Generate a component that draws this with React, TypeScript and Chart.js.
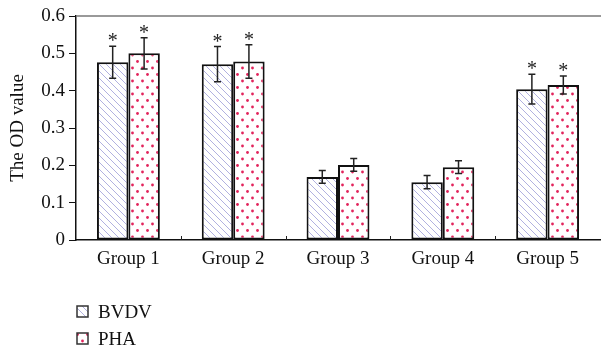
import React, { useEffect, useRef } from 'react';
import { Chart, registerables } from 'chart.js';

Chart.register(...registerables);

const categories = ['Group 1', 'Group 2', 'Group 3', 'Group 4', 'Group 5'];
const seriesNames = ['BVDV', 'PHA'];
const bvdvValues = [0.476, 0.471, 0.169, 0.155, 0.404];
const bvdvErrors = [0.043, 0.047, 0.017, 0.018, 0.040];
const phaValues = [0.5, 0.478, 0.201, 0.195, 0.415];
const phaErrors = [0.042, 0.045, 0.017, 0.017, 0.024];
const bvdvStars = [true, true, false, false, true];
const phaStars = [true, true, false, false, true];
const yMin = 0;
const yMax = 0.6;
const yStep = 0.1;
const yTitle = 'The OD value';

const FONT = "'Liberation Serif', 'Times New Roman', serif";

function makeHatch(): CanvasPattern | string {
  const n = 7;
  const c = document.createElement('canvas');
  c.width = n;
  c.height = n;
  const g = c.getContext('2d');
  if (!g) return '#fff';
  g.fillStyle = '#ffffff';
  g.fillRect(0, 0, n, n);
  g.strokeStyle = '#a8a8dc';
  g.lineWidth = 0.9;
  g.beginPath();
  g.moveTo(-1, -1);
  g.lineTo(n + 1, n + 1);
  g.moveTo(-1, n - 1);
  g.lineTo(1, n + 1);
  g.moveTo(n - 1, -1);
  g.lineTo(n + 1, 1);
  g.stroke();
  return g.createPattern(c, 'repeat') || '#fff';
}

function makeDots(): CanvasPattern | string {
  const c = document.createElement('canvas');
  c.width = 10;
  c.height = 13;
  const g = c.getContext('2d');
  if (!g) return '#fff';
  g.fillStyle = '#ffffff';
  g.fillRect(0, 0, 10, 13);
  g.fillStyle = '#e2245c';
  g.beginPath();
  g.arc(2.5, 3, 1.4, 0, Math.PI * 2);
  g.fill();
  g.beginPath();
  g.arc(7.5, 9.5, 1.4, 0, Math.PI * 2);
  g.fill();
  return g.createPattern(c, 'repeat') || '#fff';
}

export default function App() {
  const ref = useRef<HTMLCanvasElement | null>(null);

  useEffect(() => {
    const canvas = ref.current;
    if (!canvas) return;
    const hatch = makeHatch();
    const dots = makeDots();
    const errors = [bvdvErrors, phaErrors];
    const stars = [bvdvStars, phaStars];
    const fills = [hatch, dots];

    const overlay = {
      id: 'overlay',
      afterDatasetsDraw(chart: any) {
        const ctx = chart.ctx as CanvasRenderingContext2D;
        const ys = chart.scales.y;
        ctx.save();
        chart.data.datasets.forEach((ds: any, di: number) => {
          const meta = chart.getDatasetMeta(di);
          meta.data.forEach((bar: any, i: number) => {
            const v = ds.data[i];
            const e = errors[di][i];
            const x = bar.x;
            const yt = ys.getPixelForValue(v + e);
            const yb = ys.getPixelForValue(v - e);
            ctx.strokeStyle = '#222';
            ctx.lineWidth = 1.5;
            ctx.beginPath();
            ctx.moveTo(x, yt);
            ctx.lineTo(x, yb);
            ctx.moveTo(x - 3.5, yt);
            ctx.lineTo(x + 3.5, yt);
            ctx.moveTo(x - 3.5, yb);
            ctx.lineTo(x + 3.5, yb);
            ctx.stroke();
            if (stars[di][i]) {
              ctx.fillStyle = '#222';
              ctx.font = `20px ${FONT}`;
              ctx.textAlign = 'center';
              ctx.textBaseline = 'alphabetic';
              ctx.fillText('*', x, yt + 1);
            }
          });
        });
        ctx.restore();
      },
      afterDraw(chart: any) {
        const ctx = chart.ctx as CanvasRenderingContext2D;
        const area = chart.chartArea;
        const xs = chart.scales.x;
        ctx.save();
        ctx.strokeStyle = '#777';
        ctx.lineWidth = 1.5;
        ctx.beginPath();
        ctx.moveTo(area.left, area.top);
        ctx.lineTo(chart.width, area.top);
        ctx.stroke();
        ctx.strokeStyle = '#222';
        ctx.lineWidth = 1;
        ctx.beginPath();
        for (let i = 0; i < categories.length - 1; i++) {
          const bx = Math.round((xs.getPixelForTick(i) + xs.getPixelForTick(i + 1)) / 2) + 0.5;
          ctx.moveTo(bx, area.bottom);
          ctx.lineTo(bx, area.bottom - 4);
        }
        ctx.stroke();
        const lx = 77;
        const rows = [306, 333];
        seriesNames.forEach((name, k) => {
          const y0 = rows[k];
          ctx.fillStyle = fills[k] as any;
          ctx.fillRect(lx, y0, 11, 11);
          ctx.strokeStyle = '#333';
          ctx.lineWidth = 1.5;
          ctx.strokeRect(lx, y0, 11, 11);
          ctx.fillStyle = '#111';
          ctx.font = `19px ${FONT}`;
          ctx.textAlign = 'left';
          ctx.textBaseline = 'alphabetic';
          ctx.fillText(name, 98, y0 + 12);
        });
        ctx.restore();
      },
    };

    const chart = new Chart(canvas, {
      type: 'bar',
      data: {
        labels: categories,
        datasets: [
          {
            label: seriesNames[0],
            data: bvdvValues,
            backgroundColor: hatch as any,
            borderColor: '#111',
            borderWidth: 2,
            borderSkipped: false,
            barPercentage: 1,
            categoryPercentage: 0.6,
          },
          {
            label: seriesNames[1],
            data: phaValues,
            backgroundColor: dots as any,
            borderColor: '#111',
            borderWidth: 2,
            borderSkipped: false,
            barPercentage: 1,
            categoryPercentage: 0.6,
          },
        ],
      },
      options: {
        responsive: false,
        animation: false,
        layout: { padding: { top: 16, right: 1, left: 0, bottom: 0 } },
        plugins: {
          legend: { display: false },
          tooltip: { enabled: false },
        },
        scales: {
          x: {
            grid: { display: true, drawOnChartArea: false, drawTicks: false, tickLength: 0 },
            border: { display: true, color: '#111', width: 1.5 },
            ticks: {
              color: '#111',
              font: { family: FONT, size: 19 },
              padding: 8,
              maxRotation: 0,
            },
            afterFit(s: any) {
              s.height = 110;
            },
          },
          y: {
            min: yMin,
            max: yMax,
            grid: { display: true, drawOnChartArea: false, drawTicks: true, tickLength: 7, color: '#111' },
            border: { display: true, color: '#111', width: 1.5 },
            ticks: {
              stepSize: yStep,
              color: '#111',
              padding: 4,
              font: { family: FONT, size: 19 },
              callback: (v: any) => (Number(v) === 0 ? '0' : Number(v).toFixed(1)),
            },
            title: {
              display: true,
              text: yTitle,
              color: '#111',
              font: { family: FONT, size: 19 },
              padding: { top: 7, bottom: 0 },
            },
            afterFit(s: any) {
              s.width = 76;
            },
          },
        },
      },
      plugins: [overlay],
    });
    return () => chart.destroy();
  }, []);

  return (
    <div style={{ position: 'absolute', left: 0, top: 0, width: 601, height: 350, background: '#fff' }}>
      <canvas ref={ref} width={601} height={350} />
    </div>
  );
}
